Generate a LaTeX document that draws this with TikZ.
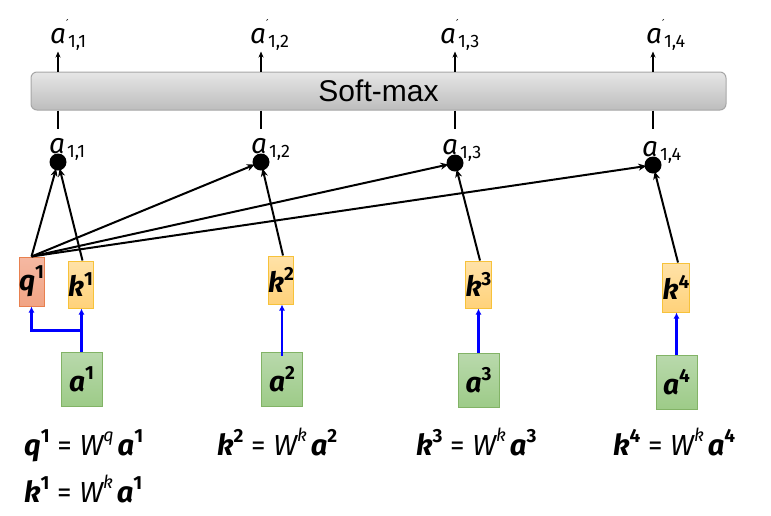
\documentclass[tikz,border=0pt]{standalone}
\usepackage{fontspec}
\setmainfont{Fira Sans}
\newfontfamily\barfont{Liberation Sans}
\newfontfamily\symfont{DejaVu Sans}
\usetikzlibrary{arrows.meta}
\definecolor{kfill1}{HTML}{FFE2A8}
\definecolor{kfill2}{HTML}{FFD27A}
\definecolor{kline}{HTML}{F7C23A}
\definecolor{qfill1}{HTML}{F5B8A2}
\definecolor{qfill2}{HTML}{F1A484}
\definecolor{qline}{HTML}{E8804F}
\definecolor{afill1}{HTML}{B9D9AC}
\definecolor{afill2}{HTML}{9DCB88}
\definecolor{aline}{HTML}{82B366}
\definecolor{bar1}{HTML}{E6E6E6}
\definecolor{bar2}{HTML}{BDBDBD}
\definecolor{barline}{HTML}{A6A6A6}
\newcommand{\vsym}[2]{{\bfseries\itshape #1}\raisebox{0.42em}{\fontsize{19}{19}\selectfont\bfseries #2}}
\newcommand{\wsym}[1]{{\itshape W}\raisebox{0.45em}{\fontsize{18}{18}\selectfont\itshape #1}}
\newcommand{\alab}[1]{{\fontsize{28}{28}\selectfont\itshape a}\hspace{2pt}\raisebox{-4pt}{\fontsize{18}{18}\selectfont #1}}
\newcommand{\aplab}[1]{{\fontsize{28}{28}\selectfont\itshape a}\rlap{\raisebox{16pt}{\symfont\fontsize{11}{11}\selectfont\hspace{0pt}′}}\hspace{2pt}\raisebox{-4pt}{\fontsize{18}{18}\selectfont #1}}
\tikzset{
  kbox/.style={draw=kline, line width=1pt, top color=kfill1, bottom color=kfill2, minimum width=25, minimum height=47, inner sep=0pt, font=\fontsize{28}{28}\selectfont},
  qbox/.style={draw=qline, line width=1pt, top color=qfill1, bottom color=qfill2, minimum width=25, minimum height=49, inner sep=0pt, font=\fontsize{28}{28}\selectfont},
  abox/.style={draw=aline, line width=1pt, top color=afill1, bottom color=afill2, minimum width=41, minimum height=54, inner sep=0pt, font=\fontsize{28}{28}\selectfont},
  dot/.style={circle, fill=black, minimum size=17, inner sep=0pt},
  lab/.style={inner sep=0pt, anchor=base west},
  conn/.style={line width=2pt, -{Stealth[length=8pt,width=7pt]}},
  bconn/.style={blue, line width=2.4pt, -{Latex[length=6pt,width=6pt]}},
  eq/.style={inner sep=0pt, anchor=base west, font=\fontsize{29}{29}\selectfont},
}
\begin{document}
\begin{tikzpicture}[x=1pt,y=-1pt]
\useasboundingbox (0,0) rectangle (771,515);
% softmax bar
\node[draw=barline, line width=1pt, rounded corners=6pt, top color=bar1, bottom color=bar2, minimum width=695, minimum height=38, inner sep=0pt, font=\barfont\fontsize{30}{30}\selectfont] (sm) at (378.5,91) {Soft-max};
% dots
\node[dot] (d1) at (58,162) {};
\node[dot] (d2) at (261,162) {};
\node[dot] (d3) at (455,163) {};
\node[dot] (d4) at (653,165) {};
% lower labels
\node[lab] (l1) at (49,153) {\alab{1,1}};
\node[lab] (l2) at (251,153) {\alab{1,2}};
\node[lab] (l3) at (442,154) {\alab{1,3}};
\node[lab] (l4) at (642,156) {\alab{1,4}};
% upper labels
\node[lab] (u1) at (50,43) {\aplab{1,1}};
\node[lab] (u2) at (250,43) {\aplab{1,2}};
\node[lab] (u3) at (440,43) {\aplab{1,3}};
\node[lab] (u4) at (646,43) {\aplab{1,4}};
% boxes
\node[qbox] (q1) at (31.5,281.5) {\vsym{q}{1}};
\node[kbox] (k1) at (80.5,284.5) {\vsym{k}{1}};
\node[kbox, minimum height=48] (k2) at (281,280) {\vsym{k}{2}};
\node[kbox] (k3) at (478.5,284.5) {\vsym{k}{3}};
\node[kbox, minimum height=49] (k4) at (676,287.5) {\vsym{k}{4}};
\node[abox] (a1) at (81.5,379) {\vsym{a}{1}};
\node[abox] (a2) at (282,379) {\vsym{a}{2}};
\node[abox] (a3) at (478.5,380.5) {\vsym{a}{3}};
\node[abox] (a4) at (676.5,382) {\vsym{a}{4}};
% softmax in/out lines
\foreach \i in {1,2,3,4}{
  \draw[line width=2pt] (sm.south -| d\i) -- ++(0,18);
  \draw[line width=1.6pt, -{Stealth[length=6pt,width=5pt]}] (sm.north -| d\i) -- ++(0,-20);
}
% q-k connections
\foreach \i in {1,2,3,4}{
  \draw[conn, shorten >=-2pt] (q1.north) -- (d\i);
}
\draw[conn, shorten >=-2pt] ([xshift=2pt]k1.north) -- (d1);
\draw[conn, shorten >=-2pt] ([xshift=2pt]k2.north) -- (d2);
\draw[conn, shorten >=-2pt] ([xshift=1.5pt]k3.north) -- (d3);
\draw[conn, shorten >=-2pt] ([xshift=2pt]k4.north) -- (d4);
% blue
\draw[bconn] (a1.north) -- (a1.north |- k1.south);
\draw[bconn] (a1.north) ++(0,-21) -| (q1.south);
\draw[bconn] ([yshift=-4pt]a2.north) -- (k2.south -| a2.north);
\draw[bconn] (a3.north) -- (k3.south -| a3.north);
\draw[bconn] (a4.north) -- (k4.south -| a4.north);
% equations
\node[eq] (e1) at (24,455) {\vsym{q}{1} = \wsym{q}\hspace{4pt}\vsym{a}{1}};
\node[eq] (e2) at (24,502) {\vsym{k}{1} = \wsym{k}\hspace{4pt}\vsym{a}{1}};
\node[eq] (e3) at (217,455) {\vsym{k}{2} = \wsym{k}\hspace{4pt}\vsym{a}{2}};
\node[eq] (e4) at (416,455) {\vsym{k}{3} = \wsym{k}\hspace{4pt}\vsym{a}{3}};
\node[eq] (e5) at (613,455) {\vsym{k}{4} = \wsym{k}\hspace{4pt}\vsym{a}{4}};
\end{tikzpicture}
\end{document}
